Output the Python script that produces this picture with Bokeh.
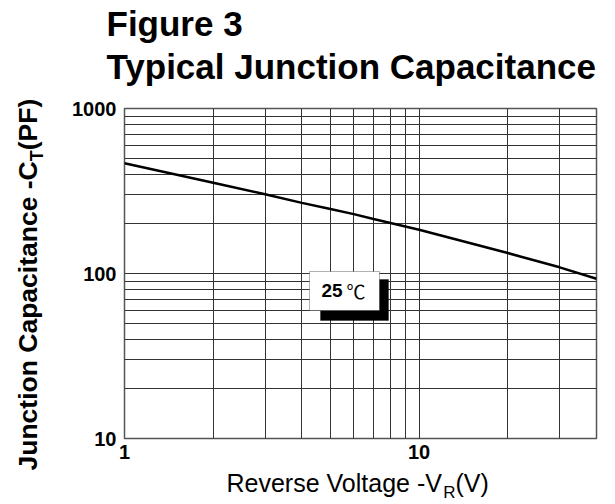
import math
from bokeh.plotting import figure
from bokeh.layouts import row, column
from bokeh.models import Range1d, FixedTicker, PrintfTickFormatter, Label, BoxAnnotation
from bokeh.embed import file_html
from bokeh.resources import INLINE

# ---- data ----
voltage_v = [1, 2, 3, 4, 5, 6, 7, 10, 20, 30, 40]
capacitance_pf = [466, 355, 302, 268, 246, 229, 214, 184, 133, 109, 93]

x_tick_labels = [1, 10]
y_tick_labels = [10, 100, 1000]
x_grid_values = [2, 3, 4, 5, 6, 7, 8, 9, 10, 20, 30]
y_grid_values = [20, 30, 40, 50, 60, 70, 80, 90, 100, 200, 300, 400, 500, 600, 700, 800, 900]

title_line1 = "Figure 3"
title_line2 = "Typical Junction Capacitance"
temp_value = "25"
temp_unit = "℃"
y_title_main = "Junction Capacitance -C"
y_title_sub = "T"
y_title_end = " (PF)"
x_title_main = "Reverse Voltage -V"
x_title_sub = "R"
x_title_end = "(V)"

# Arial / Liberation Sans advance widths (per 1000 em)
BOLD_W = {" ": 278, "(": 333, ")": 333, "-": 333, "C": 722, "F": 611, "J": 556, "P": 667,
          "T": 611, "a": 556, "c": 556, "e": 556, "i": 278, "n": 611, "o": 611, "p": 611,
          "t": 333, "u": 611}
REG_W = {" ": 278, "(": 333, ")": 333, "-": 333, "R": 722, "V": 667, "a": 556, "e": 556,
         "g": 556, "l": 222, "o": 556, "r": 333, "s": 500, "t": 278, "v": 500}


def tw(s, size, table):
    return sum(table.get(ch, 556) for ch in s) * size / 1000.0


# Bokeh draws "alphabetic" labels a bit below the anchor; compensate
BASE_K = 0.38

FONT = "Liberation Sans"
W, H = 615, 504
LEFT_W = 48          # width of the y-title strip
TOP_H = 88           # height of the title strip
MAIN_H = 380
BOT_H = H - TOP_H - MAIN_H
RIGHT_W = W - LEFT_W


def blank(width, height):
    f = figure(width=width, height=height, x_range=Range1d(0, width), y_range=Range1d(0, height),
               output_backend="svg", toolbar_location=None, frame_align=False,
               title_location=None, x_axis_location=None, y_axis_location=None,
               min_border=0, min_border_left=0, min_border_right=0,
               min_border_top=0, min_border_bottom=0)
    f.grid.visible = False
    f.outline_line_color = None
    f.background_fill_color = "white"
    f.border_fill_color = "white"
    return f


# ---------------- main chart ----------------
p = figure(width=RIGHT_W, height=MAIN_H, x_axis_type="log", y_axis_type="log",
           x_range=Range1d(1, 40), y_range=Range1d(10, 1000),
           output_backend="svg", toolbar_location=None, frame_align=False,
           title_location=None,
           min_border_left=124 - LEFT_W, min_border_right=W - 596,
           min_border_top=108 - TOP_H, min_border_bottom=TOP_H + MAIN_H - 438)
p.background_fill_color = "white"
p.border_fill_color = "white"
p.outline_line_color = "#555555"
p.outline_line_width = 1.5

for ax in (p.xaxis[0], p.yaxis[0]):
    ax.axis_line_color = None
    ax.major_tick_line_color = None
    ax.minor_tick_line_color = None
    ax.major_tick_out = 0
    ax.major_tick_in = 0
    ax.minor_tick_out = 0
    ax.minor_tick_in = 0
    ax.formatter = PrintfTickFormatter(format="%d")
    ax.major_label_text_font = FONT
    ax.major_label_text_font_style = "bold"
    ax.major_label_text_font_size = "20px"
    ax.major_label_text_color = "black"

p.xaxis.ticker = FixedTicker(ticks=x_tick_labels)
p.yaxis.ticker = FixedTicker(ticks=y_tick_labels)
p.xaxis.major_label_standoff = 6
p.yaxis.major_label_standoff = 8

p.xgrid.ticker = FixedTicker(ticks=x_grid_values)
p.ygrid.ticker = FixedTicker(ticks=y_grid_values)
for g in (p.xgrid[0], p.ygrid[0]):
    g.grid_line_color = "#333333"
    g.grid_line_width = 1
    g.grid_line_alpha = 1.0

p.line(voltage_v, capacitance_pf, line_width=2.5, line_color="black")

# temperature tag (screen units, relative to the plot frame's bottom-left)
p.add_layout(BoxAnnotation(left=196, right=264, bottom=118, top=159,
                           left_units="screen", right_units="screen",
                           bottom_units="screen", top_units="screen",
                           fill_color="black", fill_alpha=1.0, line_color="black"))
p.add_layout(BoxAnnotation(left=185, right=255, bottom=128, top=167,
                           left_units="screen", right_units="screen",
                           bottom_units="screen", top_units="screen",
                           fill_color="white", fill_alpha=1.0, line_color="black", line_width=1))
TAG = 19
p.add_layout(Label(x=197, y=141 + BASE_K * TAG, x_units="screen", y_units="screen", text=temp_value,
                   text_font=FONT, text_font_style="bold", text_font_size=f"{TAG}px",
                   text_color="black", text_baseline="alphabetic"))
p.add_layout(Label(x=222, y=141 + BASE_K * TAG, x_units="screen", y_units="screen", text=temp_unit,
                   text_font="Noto Sans CJK SC", text_font_size=f"{TAG}px",
                   text_color="black", text_baseline="alphabetic"))

# ---------------- title strip ----------------
t = blank(RIGHT_W, TOP_H)
TS = 35
t.add_layout(Label(x=106 - LEFT_W, y=TOP_H - 36 + BASE_K * TS, text=title_line1,
                   text_font=FONT, text_font_style="bold", text_font_size=f"{TS}px",
                   text_color="black", text_baseline="alphabetic"))
t.add_layout(Label(x=106 - LEFT_W, y=TOP_H - 79 + BASE_K * TS, text=title_line2,
                   text_font=FONT, text_font_style="bold", text_font_size=f"{TS}px",
                   text_color="black", text_baseline="alphabetic"))

# ---------------- x title strip ----------------
b = blank(RIGHT_W, BOT_H)
xs, xsub = 25, 17
bx0 = 226 - LEFT_W
base_y = H - 492
b.add_layout(Label(x=bx0, y=base_y + BASE_K * xs, text=x_title_main, text_font=FONT,
                   text_font_size=f"{xs}px", text_color="black", text_baseline="alphabetic"))
bx1 = bx0 + tw(x_title_main, xs, REG_W)
b.add_layout(Label(x=bx1, y=base_y - 6 + BASE_K * xsub, text=x_title_sub, text_font=FONT,
                   text_font_size=f"{xsub}px", text_color="black", text_baseline="alphabetic"))
bx2 = bx1 + tw(x_title_sub, xsub, REG_W)
b.add_layout(Label(x=bx2, y=base_y + BASE_K * xs, text=x_title_end, text_font=FONT,
                   text_font_size=f"{xs}px", text_color="black", text_baseline="alphabetic"))

# ---------------- y title strip ----------------
l = blank(LEFT_W, H)
ys, ysub = 26.5, 18
base_x = 38
ly0 = H - 470
l.add_layout(Label(x=base_x - BASE_K * ys, y=ly0, text=y_title_main, angle=math.pi / 2,
                   text_font=FONT, text_font_style="bold", text_font_size=f"{ys}px",
                   text_color="black", text_baseline="alphabetic"))
ly1 = ly0 + tw(y_title_main, ys, BOLD_W)
l.add_layout(Label(x=base_x + 5 - BASE_K * ysub, y=ly1, text=y_title_sub, angle=math.pi / 2,
                   text_font=FONT, text_font_style="bold", text_font_size=f"{ysub}px",
                   text_color="black", text_baseline="alphabetic"))
ly2 = ly1 + tw(y_title_sub, ysub, BOLD_W)
l.add_layout(Label(x=base_x - BASE_K * ys, y=ly2, text=y_title_end, angle=math.pi / 2,
                   text_font=FONT, text_font_style="bold", text_font_size=f"{ys}px",
                   text_color="black", text_baseline="alphabetic"))

layout = row(l, column(t, p, b, spacing=0), spacing=0)
open("out.html", "w").write(file_html(layout, INLINE))
